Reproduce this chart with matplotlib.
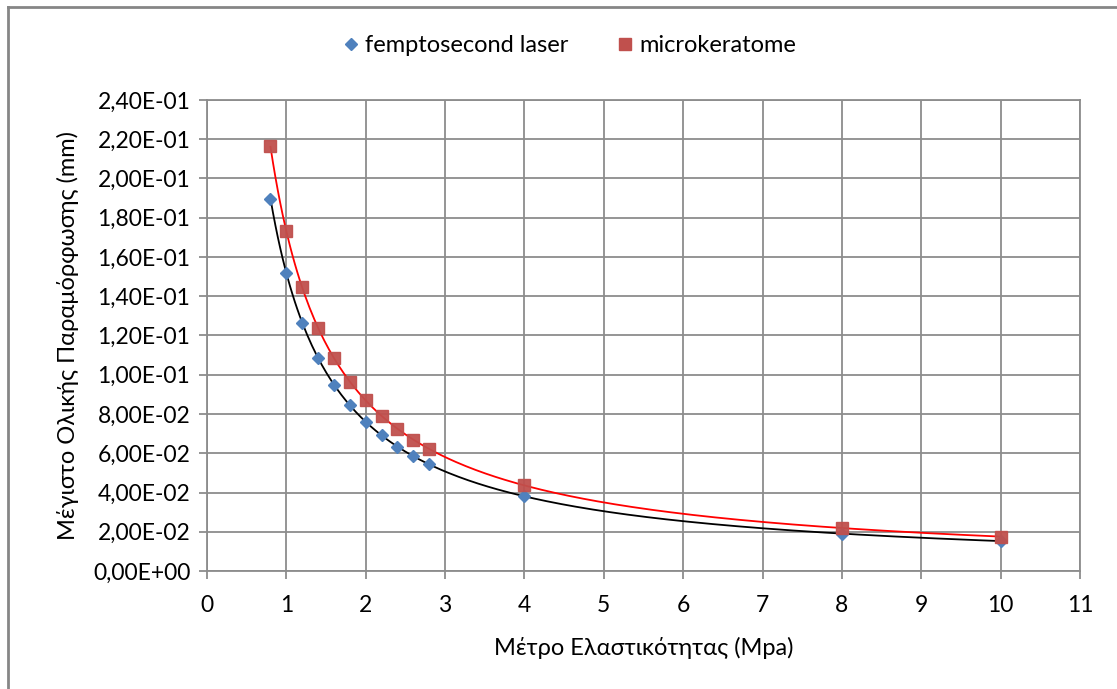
import numpy as np
import matplotlib
matplotlib.use("Agg")
import matplotlib.pyplot as plt
from matplotlib.lines import Line2D
from matplotlib.ticker import FuncFormatter, MultipleLocator

# ---- data ----
modulus = [0.8, 1.0, 1.2, 1.4, 1.6, 1.8, 2.0, 2.2, 2.4, 2.6, 2.8, 4.0, 8.0, 10.0]
femto = [0.1896, 0.1518, 0.1262, 0.1084, 0.0946, 0.0844, 0.0761, 0.0691,
         0.0634, 0.0588, 0.0545, 0.0382, 0.0190, 0.0152]
micro = [0.2166, 0.1733, 0.1445, 0.1237, 0.1084, 0.0965, 0.0871, 0.0790,
         0.0725, 0.0667, 0.0620, 0.0436, 0.0220, 0.0175]
series_names = ["femptosecond laser", "microkeratome"]
xlabel = "Μέτρο Ελαστικότητας (Mpa)"
ylabel = "Μέγιστο Ολικής Παραμόρφωσης (mm)"

FONT = "Lato"
plt.rcParams['font.family'] = [FONT, 'DejaVu Sans']
FS = 17

W, H = 1117, 689
fig = plt.figure(figsize=(W / 100, H / 100), dpi=100)
ax = fig.add_axes([207 / W, 1 - 571 / H, (1080 - 207) / W, (571 - 100) / H])

grid_c = "#8c8c8c"
blue = "#4F81BD"
red = "#C0504D"

x = np.array(modulus)
xs = np.linspace(min(modulus), max(modulus), 300)


def power_fit(xv, yv):
    b, a = np.polyfit(np.log(xv), np.log(yv), 1)
    return np.exp(a) * xs ** b


ax.plot(xs, power_fit(x, np.array(femto)), color="black", lw=1.3, zorder=3)
ax.plot(xs, power_fit(x, np.array(micro)), color="#FF0000", lw=1.3, zorder=3)
ax.plot(modulus, femto, linestyle="none", marker="D", ms=6.3, color=blue,
        mec=blue, label=series_names[0], zorder=4)
ax.plot(modulus, micro, linestyle="none", marker="s", ms=8.3, color=red,
        mec=red, label=series_names[1], zorder=4, alpha=0.95)

ax.set_xlim(0, 11)
ax.set_ylim(0, 0.24)
ax.xaxis.set_major_locator(MultipleLocator(1))
ax.yaxis.set_major_locator(MultipleLocator(0.02))
ax.yaxis.set_major_formatter(FuncFormatter(lambda v, p: f"{v:.2E}".replace('.', ',')))
ax.grid(True, color=grid_c, lw=1.3)
ax.set_axisbelow(True)
for s in ax.spines.values():
    s.set_color(grid_c)
    s.set_linewidth(1.3)
ax.tick_params(axis='both', colors=grid_c, labelcolor="black", labelsize=16.5,
               length=6, width=1.3, direction='out')
ax.tick_params(axis='x', pad=11)
ax.tick_params(axis='y', pad=6)

ax.set_xlabel(xlabel, fontsize=FS, labelpad=15)
ax.set_ylabel(ylabel, fontsize=FS, labelpad=10)

handles = [Line2D([], [], linestyle="none", marker="D", ms=6, color=blue),
           Line2D([], [], linestyle="none", marker="s", ms=8, color=red)]
fig.legend(handles, series_names, loc="center", bbox_to_anchor=(0.508, 1 - 46 / H),
           ncol=2, frameon=False, fontsize=FS, handletextpad=0.1,
           columnspacing=1.9, handlelength=1.0)

# outer chart-area border (left and top edges visible)
fig.add_artist(Line2D([8 / W, 8 / W], [0, 1 - 7 / H], color="#868686", lw=2,
                      transform=fig.transFigure))
fig.add_artist(Line2D([8 / W, 1], [1 - 7 / H, 1 - 7 / H], color="#868686", lw=2,
                      transform=fig.transFigure))

fig.savefig("out.png", dpi=100, facecolor="white")
